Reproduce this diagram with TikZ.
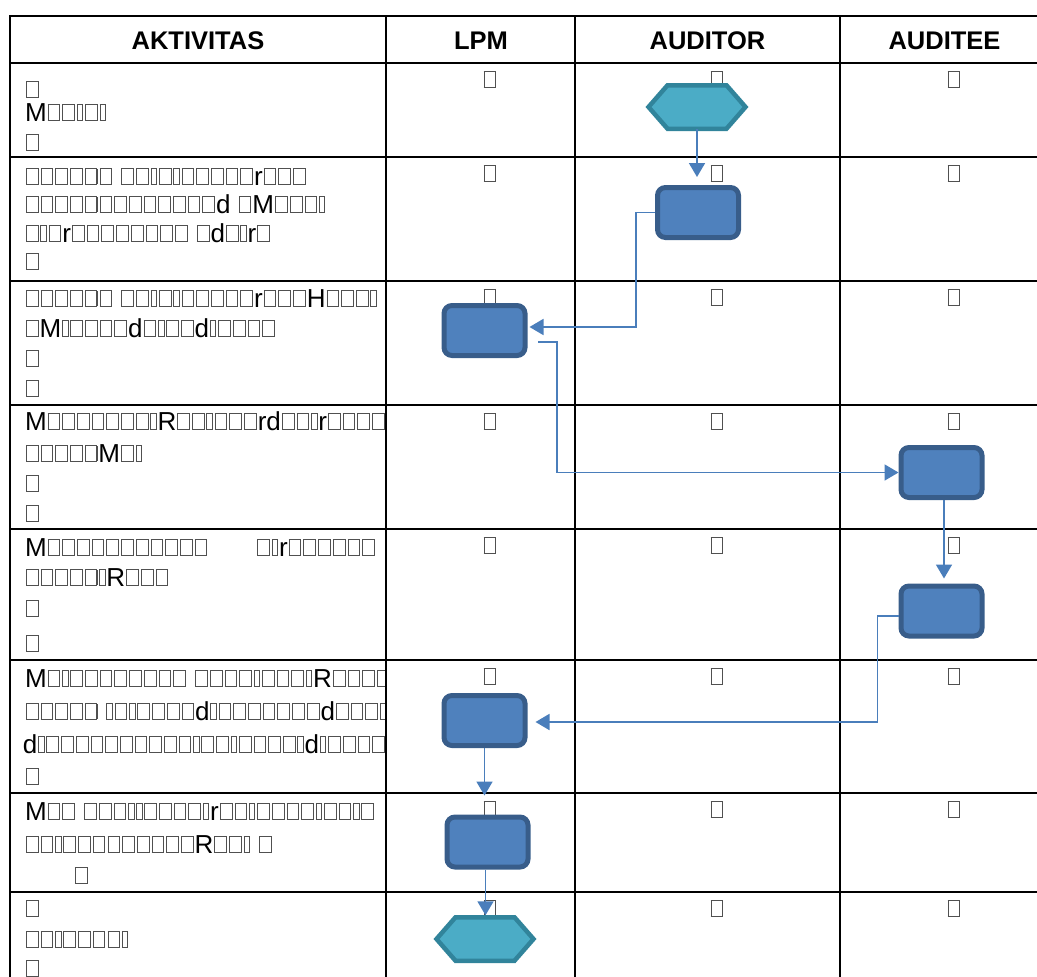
\documentclass[tikz,border=0pt]{standalone}
\usepackage{fontspec}
\setmainfont{Liberation Sans}
\usetikzlibrary{arrows.meta}
\definecolor{boxfill}{HTML}{4F81BD}
\definecolor{boxline}{HTML}{385D8A}
\definecolor{hexfill}{HTML}{4BACC6}
\definecolor{hexline}{HTML}{31849B}
\definecolor{conncol}{HTML}{4A7EBB}
\definecolor{glyphgray}{HTML}{505050}
\newcommand\bxw[2]{\hbox to #1{\hss{\color{glyphgray}\vbox{\hrule height 1pt\hbox{\vrule width 1pt height 15pt\kern #2\vrule width 1pt}\hrule height 1pt}}\hss}}
\newcommand\bxa{\bxw{14.7pt}{10.7pt}}
\newcommand\bxn{\bxw{8pt}{4.5pt}}
\catcode`\□=\active
\def□{\bxa}
\catcode`\▯=\active
\def▯{\bxn}
\tikzset{
  txt/.style={anchor=base west, inner sep=0pt, outer sep=0pt, font=\fontsize{26pt}{30pt}\selectfont},
  cellglyph/.style={anchor=base, inner sep=0pt, outer sep=0pt, font=\fontsize{26pt}{30pt}\selectfont},
  head/.style={anchor=base, inner sep=0pt, font=\fontsize{25.5pt}{30pt}\selectfont\bfseries},
  grid/.style={line width=2.6pt, black},
  procbox/.style={rectangle, rounded corners=8pt, draw=boxline, fill=boxfill, line width=5pt, minimum width=81pt, minimum height=50pt, inner sep=0pt},
  hexnode/.style={rectangle, inner sep=0pt, outer sep=0pt, minimum width=97pt, minimum height=43.5pt},
  hexdraw/.style={draw=hexline, fill=hexfill, line width=4.5pt, line join=miter},
  conn/.style={draw=conncol, line width=1.8pt, -{Triangle[length=14pt,width=16pt]}}
}
\begin{document}
\begin{tikzpicture}[x=1pt,y=-1pt]
\useasboundingbox (0,0) rectangle (1037,977);
\clip (0,0) rectangle (1037,977);
% activity texts
\begin{scope}
\clip (10,16) rectangle (385,977);
\node[txt] (t11) at (25,98) {□};
\node[txt] (t12) at (25,121) {M□□▯□▯};
\node[txt] (t13) at (25,151) {□};
\node[txt] (t21) at (25,185) {□□□□□□ □□▯□▯□□□□□r□□□};
\node[txt] (t22) at (25,213) {□□□□□□□□□□□□□d □M□□□▯};
\node[txt] (t23) at (25,242) {□▯□r□□□□□□□□ □d□▯r□};
\node[txt] (t24) at (25,270) {□};
\node[txt] (t31) at (25,307) {□□□□□□ □□▯□▯□□□□□r□□□H□□□▯};
\node[txt] (t32) at (25,337) {□M▯□□□□d□▯□□d▯□□□□};
\node[txt] (t33) at (25,367) {□};
\node[txt] (t34) at (25,397) {□};
\node[txt] (t41) at (25,430) {M□□□□□□□▯R□□▯□□□rd□□▯r□□□□};
\node[txt] (t42) at (25,462) {□□□□□M□▯};
\node[txt] (t43) at (25,492) {□};
\node[txt] (t44) at (25,522) {□};
\node[txt] (t51) at (25,556) {M□□□□□□□□□□□\hspace*{48pt}□▯r□□□□□□};
\node[txt] (t52) at (25,586) {□□□□□▯R□□□};
\node[txt] (t53) at (25,617) {□};
\node[txt] (t54) at (25,652) {□};
\node[txt] (t61) at (25,687) {M□▯□□□□□□□□ □□□□▯□□□▯R□□□□};
\node[txt] (t62) at (25,720) {□□□□□ ▯□▯□□□□d▯□□□□□□□d□□□□};
\node[txt] (t63) at (23,753) {d▯□□□□□□□□□□▯□□▯□□□□▯d▯□□□□};
\node[txt] (t64) at (25,785) {□};
\node[txt] (t71) at (25,820) {M□□ □□□▯▯□□□□▯r□□▯□□□□▯□□▯□};
\node[txt] (t72) at (25,853) {□□▯□□□□□□□□□R□□▯ □};
\node[txt] (t73) at (74,884) {□};
\node[txt] (t81) at (25,917) {□};
\node[txt] (t82) at (25,948) {□□▯□□□□▯};
\node[txt] (t83) at (25,977) {□};
\end{scope}
% cell glyphs of the other columns
\foreach \r/\y in {1/63,2/157,3/281,4/405,5/529,6/660,7/793,8/892} {
  \foreach \c/\x in {l/490,a/717,e/954} {
    \node[cellglyph] (g\c\r) at (\x,\y+25) {□};
  }
}
% header
\node[head] (hA) at (198,49) {AKTIVITAS};
\node[head] (hL) at (481,49) {LPM};
\node[head] (hU) at (707.5,49) {AUDITOR};
\node[head] (hE) at (944.5,49) {AUDITEE};
% grid
\foreach \y in {16,63,157,281,405,529,660,793,892} {
  \draw[grid] (9,\y) -- (1040,\y);
}
\foreach \x in {10,386,575,840} {
  \draw[grid] (\x,15) -- (\x,980);
}
% shapes
\node[hexnode] (h1) at (697,107) {};
\draw[hexdraw] (h1.west) -- ([xshift=19pt]h1.north west) -- ([xshift=-19pt]h1.north east) -- (h1.east) -- ([xshift=-19pt]h1.south east) -- ([xshift=19pt]h1.south west) -- cycle;
\node[hexnode] (h2) at (485,939) {};
\draw[hexdraw] (h2.west) -- ([xshift=19pt]h2.north west) -- ([xshift=-19pt]h2.north east) -- (h2.east) -- ([xshift=-19pt]h2.south east) -- ([xshift=19pt]h2.south west) -- cycle;
\node[procbox] (bA) at (698,212.5) {};
\node[procbox] (bB) at (484.5,330.5) {};
\node[procbox] (bC) at (941.5,472.5) {};
\node[procbox] (bD) at (941.5,611) {};
\node[procbox] (bE) at (484.5,720.5) {};
\node[procbox] (bF) at (487.5,842) {};
% connectors
\coordinate (s3) at (538,342);
\draw[conn, shorten >=8pt] (h1.south) -- (h1.south |- bA.north);
\draw[conn, shorten >=2pt] (bA.west) -- ++(-19,0) |- ([yshift=3.5pt]bB.east);
\draw[conn] (s3) -- ++(19,0) |- (bC.west);
\draw[conn, shorten >=5pt] ([xshift=2.5pt]bC.south) -- ([xshift=2.5pt]bC.south |- bD.north);
\draw[conn, shorten >=8pt] ([yshift=-5pt]bD.west) -- ++(-21,0) |- ([yshift=-1.5pt]bE.east);
\draw[conn, shorten >=19pt] (bE.south) -- (bE.south |- bF.north);
\draw[conn, shorten >=2pt] ([xshift=-2pt]bF.south) -- ([xshift=-2pt]bF.south |- h2.north);
\end{tikzpicture}
\end{document}
